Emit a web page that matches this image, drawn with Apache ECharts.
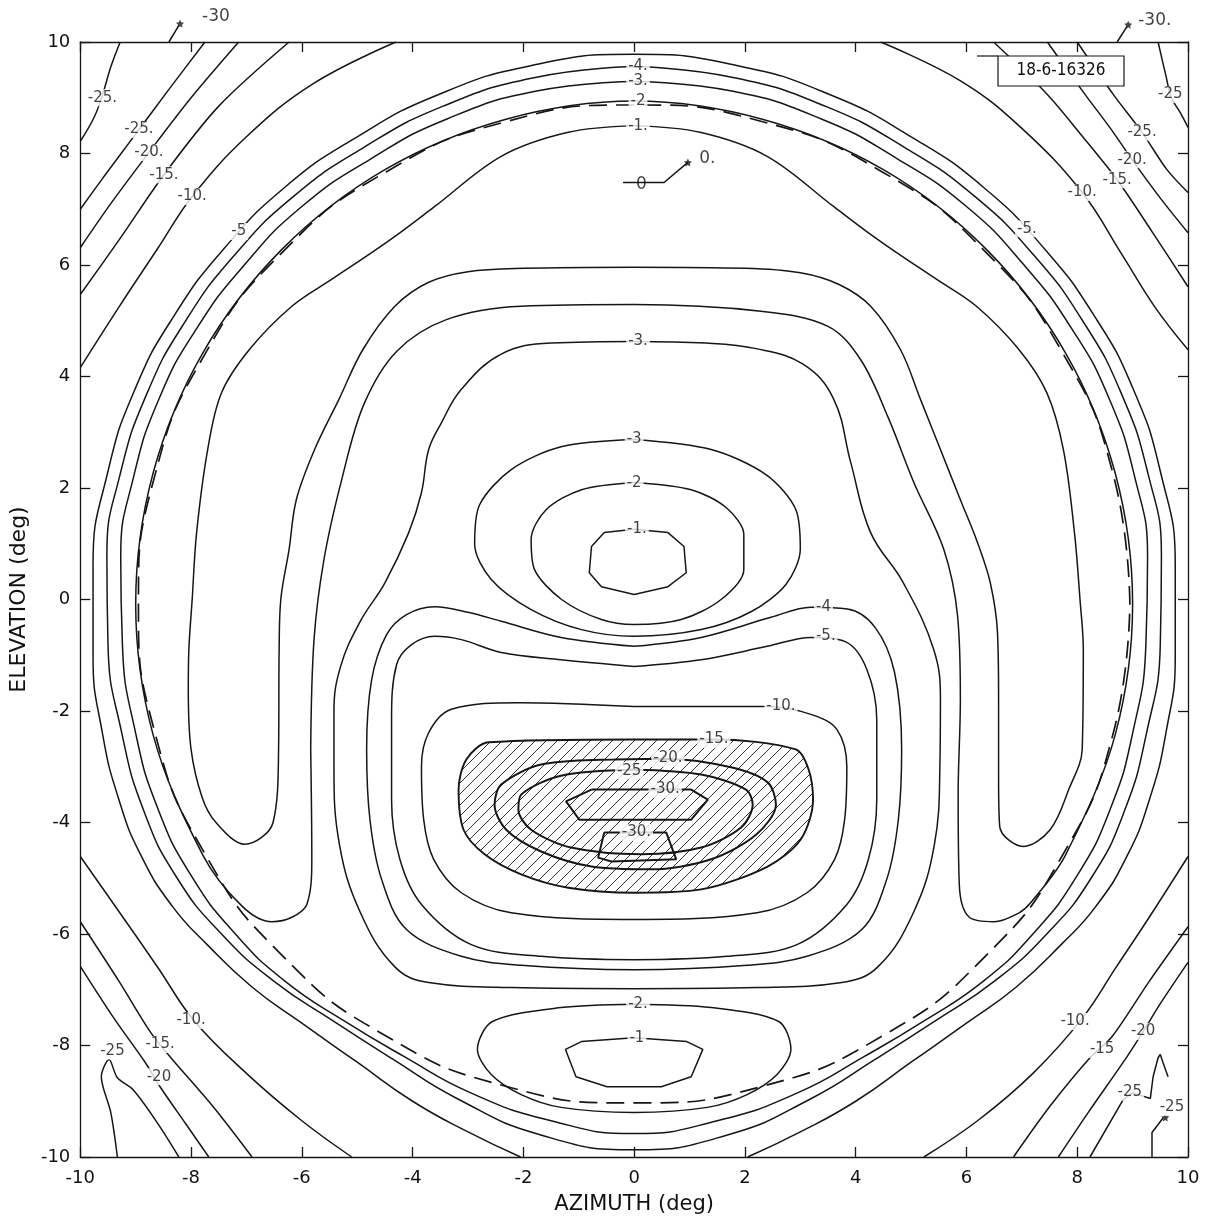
<!DOCTYPE html>
<html>
<head>
<meta charset="utf-8">
<script src="https://cdn.jsdelivr.net/npm/echarts/dist/echarts.min.js"></script>
<style>
html, body { margin: 0; background: #fff; }
#chart { width: 1205px; height: 1223px; }
</style>
</head>
<body>
<div id="chart"></div>
<script>
// axis ticks
const azTicks = [-10, -8, -6, -4, -2, 0, 2, 4, 6, 8, 10];
const elTicks = [-10, -8, -6, -4, -2, 0, 2, 4, 6, 8, 10];

// outer rings [azimuth, elevation]
const ringM5 = [[-2.05,-10],[-3.0,-9.55],[-4.0,-9.0],[-5.0,-8.3],[-6.0,-7.6],[-6.9,-6.95],[-7.7,-6.2],[-8.34,-5.5],[-8.9,-4.6],[-9.3,-3.6],[-9.6,-2.4],[-9.77,-1.0],[-9.77,0.6],[-9.5,2.3],[-9.0,3.8],[-8.3,5.1],[-7.4,6.3],[-6.3,7.4],[-5.0,8.3],[-3.55,9.05],[-1.85,9.58],[0,9.78],[1.85,9.58],[3.55,9.05],[5.0,8.3],[6.3,7.4],[7.4,6.3],[8.3,5.1],[9.0,3.8],[9.5,2.3],[9.77,0.6],[9.77,-1.0],[9.6,-2.4],[9.3,-3.6],[8.9,-4.6],[8.34,-5.5],[7.7,-6.2],[6.9,-6.95],[6.0,-7.6],[5.0,-8.3],[4.0,-9.0],[3.0,-9.55],[2.05,-10]];
const ringM4 = [[0,9.56],[-1.81,9.36],[-3.47,8.84],[-4.88,8.11],[-6.15,7.23],[-7.23,6.16],[-8.11,4.98],[-8.79,3.71],[-9.28,2.25],[-9.52,0.78],[-9.5,-0.8],[-9.25,-2.4],[-8.85,-3.8],[-8.25,-5.0],[-7.45,-6.0],[-6.5,-6.85],[-5.45,-7.55],[-4.35,-8.25],[-3.2,-8.95],[-1.7,-9.6],[0,-9.87],[1.7,-9.6],[3.2,-8.95],[4.35,-8.25],[5.45,-7.55],[6.5,-6.85],[7.45,-6.0],[8.25,-5.0],[8.85,-3.8],[9.25,-2.4],[9.5,-0.8],[9.52,0.78],[9.28,2.25],[8.79,3.71],[8.11,4.98],[7.23,6.16],[6.15,7.23],[4.88,8.11],[3.47,8.84],[1.81,9.36],[0,9.56]];
const ringM3 = [[0,9.29],[-1.76,9.12],[-3.38,8.62],[-4.76,7.9],[-6.0,7.05],[-7.04,6.0],[-7.9,4.86],[-8.57,3.62],[-9.04,2.19],[-9.27,0.76],[-9.24,-0.8],[-9.0,-2.4],[-8.6,-3.75],[-8.0,-4.95],[-7.2,-6.0],[-6.3,-6.85],[-5.25,-7.55],[-4.15,-8.2],[-2.95,-8.85],[-1.5,-9.35],[0,-9.58],[1.5,-9.35],[2.95,-8.85],[4.15,-8.2],[5.25,-7.55],[6.3,-6.85],[7.2,-6.0],[8.0,-4.95],[8.6,-3.75],[9.0,-2.4],[9.24,-0.8],[9.27,0.76],[9.04,2.19],[8.57,3.62],[7.9,4.86],[7.04,6.0],[6.0,7.05],[4.76,7.9],[3.38,8.62],[1.76,9.12],[0,9.29]];
const dashedCircle = [[8.95,-0.08],[8.65,2.24],[7.75,4.40],[6.33,6.25],[4.48,7.67],[2.32,8.57],[0,8.87],[-2.32,8.57],[-4.48,7.67],[-6.33,6.25],[-7.75,4.40],[-8.65,2.24],[-8.95,-0.08],[-8.65,-2.40],[-7.75,-4.56],[-6.33,-6.41],[-4.48,-7.83],[-2.32,-8.73],[0,-9.03],[2.32,-8.73],[4.48,-7.83],[6.33,-6.41],[7.75,-4.56],[8.65,-2.40],[8.95,-0.08]];

// horseshoe contours
const shoeM2 = [[-5.84,-2.69],[-5.82,-4.66],[-5.91,-5.47],[-6.18,-5.70],[-6.54,-5.78],[-7.08,-5.5],[-7.79,-4.58],[-8.69,-2.41],[-9.0,-0.08],[-8.69,2.25],[-7.79,4.42],[-6.36,6.28],[-4.5,7.71],[-2.33,8.61],[0,8.94],[2.33,8.61],[4.5,7.71],[6.36,6.28],[7.79,4.42],[8.69,2.25],[9.0,-0.08],[8.69,-2.41],[7.79,-4.58],[7.15,-5.45],[6.95,-5.62],[6.5,-5.78],[6.05,-5.7],[5.87,-5.1],[5.85,-3.5],[5.89,-1.79],[5.84,-0.3],[5.59,0.9],[5.05,2.1],[4.58,3.28],[4.09,4.3],[3.5,4.9],[2.29,5.17],[0,5.29],[-2.04,5.26],[-3.39,5.02],[-4.29,4.45],[-4.88,3.5],[-5.28,2.15],[-5.6,0.72],[-5.78,-0.72],[-5.84,-2.69]];
const shoeM1 = [[0,8.5],[-1.19,8.38],[-2.4,7.95],[-3.6,7.05],[-4.2,6.6],[-4.7,6.25],[-5.45,5.75],[-6.18,5.26],[-6.95,4.48],[-7.45,3.71],[-7.7,2.69],[-7.9,1.2],[-7.98,0],[-8.04,-0.9],[-8.05,-1.6],[-8.0,-2.69],[-7.8,-3.55],[-7.55,-4.0],[-7.03,-4.39],[-6.52,-4.0],[-6.42,-2.69],[-6.41,-0.9],[-6.38,0],[-6.23,0.9],[-6.1,1.79],[-5.77,2.69],[-5.33,3.59],[-4.9,4.48],[-4.32,5.26],[-3.71,5.69],[-3.0,5.88],[-2.0,5.94],[0,5.96],[2.0,5.94],[3.0,5.86],[3.7,5.65],[4.27,5.26],[4.81,4.48],[5.17,3.59],[5.53,2.69],[5.89,1.79],[6.2,1.02],[6.43,0.3],[6.56,-0.59],[6.58,-1.79],[6.58,-3.2],[6.6,-4.07],[7.03,-4.43],[7.51,-4.13],[7.85,-3.4],[8.09,-2.69],[8.11,-0.9],[8.05,0],[7.95,1.2],[7.75,2.69],[7.45,3.71],[6.95,4.48],[6.18,5.26],[5.45,5.75],[4.7,6.25],[4.2,6.6],[3.6,7.05],[2.4,7.95],[1.19,8.38],[0,8.5]];

// inner loops
const innerM3 = [[0,4.63],[-1.5,4.6],[-2.4,4.4],[-3.12,3.77],[-3.48,3.17],[-3.71,2.69],[-3.84,1.92],[-4.07,1.2],[-4.5,0.3],[-4.95,-0.4],[-5.3,-1.2],[-5.42,-2.0],[-5.42,-3.0],[-5.32,-4.4],[-4.95,-5.6],[-4.32,-6.59],[-3.71,-6.87],[-2.22,-6.96],[0,-6.98],[2.22,-6.96],[3.75,-6.87],[4.4,-6.59],[5.05,-5.6],[5.42,-4.4],[5.52,-3.0],[5.53,-1.79],[5.41,-0.9],[4.86,0.3],[4.27,1.2],[3.91,2.46],[3.6,3.6],[3.05,4.22],[2.2,4.5],[1.3,4.6],[0,4.63]];
const eyeM3 = [[0,2.87],[-1.32,2.74],[-2.22,2.33],[-2.79,1.70],[-2.88,0.99],[-2.58,0.36],[-1.86,-0.18],[-0.95,-0.54],[0,-0.66],[1.21,-0.54],[2.11,-0.22],[2.74,0.27],[3.0,0.9],[2.92,1.61],[2.38,2.24],[1.39,2.69],[0,2.87]];
const eyeM2 = [[0,2.1],[-0.95,1.97],[-1.59,1.61],[-1.86,1.08],[-1.8,0.54],[-1.31,0],[-0.59,-0.36],[0,-0.45],[0.85,-0.36],[1.57,0],[1.98,0.54],[1.98,1.17],[1.66,1.65],[1.03,1.97],[0,2.1]];
const eyeM1 = [[0,1.26],[-0.54,1.20],[-0.77,0.95],[-0.81,0.48],[-0.59,0.23],[0,0.09],[0.61,0.23],[0.94,0.48],[0.90,0.95],[0.61,1.20],[0,1.26]];
const loopM4 = [[0,-0.84],[-1.32,-0.68],[-2.4,-0.39],[-3.0,-0.23],[-3.6,-0.13],[-4.11,-0.27],[-4.47,-0.63],[-4.74,-1.44],[-4.83,-2.69],[-4.77,-3.95],[-4.56,-5.02],[-4.11,-5.92],[-3.12,-6.40],[-2.04,-6.56],[0,-6.64],[2.04,-6.56],[3.12,-6.40],[4.11,-5.92],[4.56,-5.02],[4.77,-3.95],[4.83,-2.69],[4.7,-1.3],[4.35,-0.5],[3.85,-0.17],[3.19,-0.14],[2.47,-0.32],[1.21,-0.68],[0,-0.84]];
const loopM5 = [[0,-1.2],[-1.32,-1.08],[-2.4,-0.95],[-3.12,-0.72],[-3.6,-0.66],[-4.02,-0.81],[-4.29,-1.17],[-4.38,-2.15],[-4.38,-3.59],[-4.23,-4.66],[-3.84,-5.47],[-2.94,-6.19],[-1.68,-6.40],[0,-6.46],[1.68,-6.40],[2.94,-6.19],[3.84,-5.47],[4.23,-4.66],[4.38,-3.59],[4.38,-2.15],[4.2,-1.25],[3.82,-0.76],[3.19,-0.68],[2.4,-0.84],[1.21,-1.08],[0,-1.2]];
const loopM10 = [[0,-1.92],[-2.09,-1.85],[-3.3,-1.97],[-3.71,-2.39],[-3.84,-3.0],[-3.8,-3.95],[-3.62,-4.66],[-3.12,-5.26],[-2.22,-5.62],[0,-5.74],[2.22,-5.62],[3.12,-5.26],[3.62,-4.66],[3.8,-3.95],[3.84,-3.0],[3.66,-2.33],[3.19,-2.06],[2.41,-1.92],[0,-1.92]];
const loopM15 = [[0,-2.51],[-2.63,-2.56],[-3.03,-2.87],[-3.17,-3.41],[-3.08,-4.13],[-2.7,-4.57],[-2.04,-4.93],[-1.19,-5.17],[0,-5.26],[1.21,-5.20],[2.41,-4.79],[3.01,-4.30],[3.23,-3.59],[3.15,-3.05],[2.92,-2.69],[1.44,-2.51],[0,-2.51]];
const loopM20 = [[-0.36,-2.87],[-1.68,-2.96],[-2.4,-3.32],[-2.52,-3.68],[-2.31,-4.13],[-1.68,-4.52],[-0.77,-4.79],[0.31,-4.84],[1.39,-4.66],[2.2,-4.22],[2.56,-3.68],[2.41,-3.28],[1.75,-3.01],[0.6,-2.86],[-0.36,-2.87]];
const loopM25 = [[0,-3.05],[-1.32,-3.16],[-2.04,-3.5],[-2.09,-3.77],[-1.86,-4.13],[-1.14,-4.45],[0.13,-4.57],[1.21,-4.45],[1.93,-4.09],[2.14,-3.68],[2.02,-3.41],[1.21,-3.14],[0,-3.05]];
const loopM30a = [[-0.77,-3.41],[-1.23,-3.62],[-0.99,-3.95],[1.03,-3.95],[1.33,-3.59],[1.03,-3.41],[-0.77,-3.41]];
const loopM30b = [[-0.54,-4.18],[-0.65,-4.63],[-0.41,-4.70],[0.76,-4.66],[0.58,-4.18],[-0.54,-4.18]];
const lobeM2 = [[0,-7.26],[-1.32,-7.32],[-2.56,-7.57],[-2.83,-8.07],[-2.58,-8.52],[-2.04,-8.88],[-1.32,-9.11],[0,-9.2],[1.32,-9.11],[2.04,-8.88],[2.58,-8.52],[2.83,-8.07],[2.61,-7.57],[1.39,-7.32],[0,-7.26]];
const lobeM1 = [[0,-7.86],[-0.95,-7.93],[-1.24,-8.07],[-1.05,-8.56],[-0.49,-8.74],[0.49,-8.74],[1.03,-8.56],[1.24,-8.07],[0.95,-7.93],[0,-7.86]];

// corner contours
const tlM25a = [[-9.28,10],[-9.45,9.55],[-9.6,9.05],[-9.75,8.65],[-10,8.22]];
const tlM25b = [[-10,7.0],[-9.6,7.55],[-9.3,7.95],[-8.94,8.43],[-8.4,9.15],[-7.75,10]];
const tlM20 = [[-10,6.31],[-9.45,7.1],[-8.76,8.02],[-8.0,9.0],[-7.14,10]];
const tlM15 = [[-10,5.47],[-9.3,6.45],[-8.49,7.62],[-7.5,8.85],[-6.23,10]];
const tlM10 = [[-10,4.16],[-9.3,5.25],[-8.6,6.3],[-7.98,7.23],[-7.0,8.3],[-5.8,9.25],[-4.3,10]];
const trM10 = [[4.45,10],[5.9,9.3],[7.0,8.45],[8.09,7.3],[8.8,6.2],[9.4,5.25],[10,4.48]];
const trM15 = [[6.49,10],[7.46,9.06],[8.1,8.3],[8.72,7.53],[9.35,6.6],[10,5.61]];
const trM20 = [[7.46,10],[8.14,9.06],[8.6,8.45],[8.99,7.89],[9.5,7.2],[10,6.58]];
const trM25b = [[8.0,10],[8.65,9.06],[9.17,8.38],[9.62,7.71],[10,7.3]];
const trM25a = [[9.46,10],[9.6,9.4],[9.7,9.0],[9.85,8.75],[10,8.47]];
const blM10 = [[-10,-4.61],[-9.3,-5.6],[-8.6,-6.6],[-7.95,-7.55],[-7.0,-8.5],[-6.0,-9.35],[-5.1,-10]];
const blM15 = [[-10,-5.78],[-9.3,-6.85],[-8.74,-7.75],[-8.38,-8.2],[-7.6,-9.1],[-6.9,-10]];
const blM20 = [[-10,-6.58],[-9.4,-7.5],[-8.83,-8.3],[-8.56,-8.74],[-8.1,-9.4],[-7.68,-10]];
const blM25 = [[-9.33,-10],[-9.45,-9.2],[-9.62,-8.56],[-9.48,-8.25],[-9.33,-8.58],[-9.05,-8.79],[-8.6,-9.4],[-8.22,-10]];
const brM10 = [[10,-4.61],[9.3,-5.7],[8.7,-6.6],[8.1,-7.5],[7.2,-8.5],[6.2,-9.35],[5.23,-10]];
const brM15 = [[10,-5.87],[9.3,-6.85],[8.63,-7.84],[8.23,-8.22],[7.5,-9.1],[6.85,-10]];
const brM20 = [[10,-6.51],[9.5,-7.25],[9.19,-7.75],[8.9,-8.2],[8.2,-9.2],[7.66,-10]];
const brM25 = [[8.23,-10],[8.83,-8.97],[9.0,-8.85],[9.32,-8.95],[9.37,-8.56],[9.46,-8.22],[9.5,-8.16],[9.55,-8.31],[9.64,-8.56]];
const brM25b = [[9.35,-10],[9.35,-9.56],[9.55,-9.3]];

// markers and leaders
const zeroLine = [[-0.2,7.48],[0.54,7.48],[0.97,7.84]];
const leaderL = [[-8.4,10],[-8.22,10.3]];
const leaderR = [[8.72,10],[8.9,10.28]];
const stars = [[-8.2,10.33],[8.92,10.31],[0.97,7.84],[9.59,-9.29]];

// contour level labels [az, el, text]
const contourLabels = [
  [0.07,9.56,'-4.'],[0.07,9.29,'-3.'],[0.07,8.94,'-2'],[0.07,8.5,'-1.'],
  [-9.6,9.0,'-25.'],[-8.94,8.43,'-25.'],[-8.76,8.02,'-20.'],[-8.49,7.62,'-15.'],[-7.98,7.23,'-10.'],[-7.14,6.6,'-5'],
  [9.68,9.06,'-25'],[9.17,8.38,'-25.'],[8.99,7.89,'-20.'],[8.72,7.53,'-15.'],[8.09,7.3,'-10.'],[7.09,6.65,'-5.'],
  [0.07,4.63,'-3.'],[0,2.87,'-3'],[0,2.08,'-2'],[0.05,1.26,'-1.'],
  [3.42,-0.14,'-4'],[3.46,-0.66,'-5.'],[2.65,-1.92,'-10.'],[1.44,-2.51,'-15.'],[0.61,-2.85,'-20.'],[-0.09,-3.07,'-25'],[0.56,-3.41,'-30.'],[0.04,-4.18,'-30.'],
  [0.07,-7.26,'-2.'],[0.05,-7.86,'-1'],
  [-8.0,-7.55,'-10.'],[-8.56,-7.98,'-15.'],[-8.58,-8.56,'-20'],[-9.42,-8.1,'-25'],
  [7.96,-7.57,'-10.'],[8.45,-8.07,'-15'],[9.19,-7.75,'-20'],[8.95,-8.84,'-25'],[9.71,-9.11,'-25']
];
const markerLabels = [[-7.55,10.45,'-30'],[9.4,10.38,'-30.'],[1.32,7.9,'0.'],[0.13,7.45,'0']];

const ink = '#161616';
const font = 'DejaVu Sans';

function contour(data, smooth, extra) {
  return Object.assign({
    type: 'line', data: data, smooth: smooth, symbol: 'none', showSymbol: false,
    lineStyle: { color: ink, width: 1.5 }, silent: true, animation: false, z: 3
  }, extra || {});
}

// hatch pattern for the deep null
const hatch = document.createElement('canvas');
hatch.width = 11; hatch.height = 11;
const hc = hatch.getContext('2d');
hc.strokeStyle = '#333'; hc.lineWidth = 1;
hc.beginPath();
hc.moveTo(0, 11); hc.lineTo(11, 0);
hc.moveTo(-1, 1); hc.lineTo(1, -1);
hc.moveTo(10, 12); hc.lineTo(12, 10);
hc.stroke();

const chart = echarts.init(document.getElementById('chart'));

const axisCommon = {
  type: 'value', min: -10, max: 10, interval: 2,
  axisLine: { show: true, onZero: false, lineStyle: { color: ink, width: 1.3 } },
  axisTick: { show: true, inside: true, length: 10, lineStyle: { color: ink, width: 1.3 } },
  splitLine: { show: false }
};

const series = [
  {
    type: 'custom', silent: true, animation: false, z: 1,
    data: [[0, 0]],
    renderItem: function (params, api) {
      const pts = loopM15.map(p => api.coord(p));
      return { type: 'polygon', shape: { points: pts, smooth: 0.3 }, style: { fill: { image: hatch, repeat: 'repeat' }, stroke: null } };
    }
  },
  contour(ringM5, 0.5),
  contour(ringM4, 0.5),
  contour(ringM3, 0.5),
  contour(dashedCircle, 0.5, { lineStyle: { color: ink, width: 1.7, type: [18, 9] } }),
  contour(shoeM2, 0.35),
  contour(shoeM1, 0.35),
  contour(innerM3, 0.4),
  contour(eyeM3, 0.3),
  contour(eyeM2, 0.3),
  contour(eyeM1, false),
  contour(loopM4, 0.35),
  contour(loopM5, 0.35),
  contour(loopM10, 0.35),
  contour(loopM15, 0.3, { lineStyle: { color: ink, width: 1.9 } }),
  contour(loopM20, 0.3, { lineStyle: { color: ink, width: 2 } }),
  contour(loopM25, 0.3, { lineStyle: { color: ink, width: 2 } }),
  contour(loopM30a, false, { lineStyle: { color: ink, width: 2 } }),
  contour(loopM30b, false, { lineStyle: { color: ink, width: 2 } }),
  contour(lobeM2, 0.3),
  contour(lobeM1, false),
  contour(tlM25a, 0.4), contour(tlM25b, 0.3), contour(tlM20, 0.3), contour(tlM15, 0.3), contour(tlM10, 0.4),
  contour(trM10, 0.4), contour(trM15, 0.3), contour(trM20, 0.3), contour(trM25b, 0.3), contour(trM25a, 0.4),
  contour(blM10, 0.4), contour(blM15, 0.3), contour(blM20, 0.3), contour(blM25, 0.3),
  contour(brM10, 0.4), contour(brM15, 0.3), contour(brM20, 0.3), contour(brM25, false), contour(brM25b, false),
  contour(zeroLine, false, { clip: false }),
  contour(leaderL, false, { clip: false }),
  contour(leaderR, false, { clip: false }),
  {
    type: 'scatter', data: stars, symbol: 'path://M0,-10L2.9,-4L9.5,-3.1L4.7,1.5L5.9,8.1L0,5L-5.9,8.1L-4.7,1.5L-9.5,-3.1L-2.9,-4Z',
    symbolSize: 8, itemStyle: { color: ink }, clip: false, silent: true, animation: false, z: 6
  },
  {
    type: 'scatter', silent: true, animation: false, clip: false, z: 8,
    data: contourLabels.map(d => ({ value: [d[0], d[1]], name: d[2] })),
    symbolSize: 1, itemStyle: { color: 'rgba(0,0,0,0)' },
    label: {
      show: true, position: 'inside', formatter: '{b}', color: '#111', fontFamily: font, fontSize: 15,
      backgroundColor: '#fff', padding: [1, 2]
    }
  },
  {
    type: 'scatter', silent: true, animation: false, clip: false, z: 8,
    data: markerLabels.map(d => ({ value: [d[0], d[1]], name: d[2] })),
    symbolSize: 1, itemStyle: { color: 'rgba(0,0,0,0)' },
    label: { show: true, position: 'inside', formatter: '{b}', color: '#111', fontFamily: font, fontSize: 17 }
  }
];

chart.setOption({
  animation: false,
  backgroundColor: '#fff',
  grid: { left: 78, right: 17, top: 42, bottom: 66 },
  xAxis: [
    Object.assign({}, axisCommon, {
      position: 'bottom',
      axisLabel: { color: '#111', fontFamily: font, fontSize: 18, margin: 12, formatter: v => azTicks.includes(v) ? String(v) : '' },
      name: 'AZIMUTH (deg)', nameLocation: 'middle', nameGap: 37,
      nameTextStyle: { color: '#111', fontFamily: font, fontSize: 21 }
    }),
    Object.assign({}, axisCommon, { position: 'top', axisLabel: { show: false } })
  ],
  yAxis: [
    Object.assign({}, axisCommon, {
      position: 'left',
      axisLabel: { color: '#111', fontFamily: font, fontSize: 18, margin: 10, formatter: v => elTicks.includes(v) ? String(v) : '' },
      name: 'ELEVATION (deg)', nameLocation: 'middle', nameGap: 50,
      nameTextStyle: { color: '#111', fontFamily: font, fontSize: 22 }
    }),
    Object.assign({}, axisCommon, { position: 'right', axisLabel: { show: false } })
  ],
  graphic: [
    { type: 'line', z: 20, shape: { x1: 977, y1: 56, x2: 998, y2: 56 }, style: { stroke: ink, lineWidth: 1.2 } },
    { type: 'rect', z: 20, shape: { x: 998, y: 56, width: 126, height: 30 }, style: { fill: '#fff', stroke: ink, lineWidth: 1.2 } },
    { type: 'text', z: 21, x: 1061, y: 71, style: { text: '18-6-16326', font: '17px "DejaVu Sans Condensed", "DejaVu Sans"', fill: '#111', textAlign: 'center', textVerticalAlign: 'middle', align: 'center', verticalAlign: 'middle' } }
  ],
  series: series
});
</script>
</body>
</html>
